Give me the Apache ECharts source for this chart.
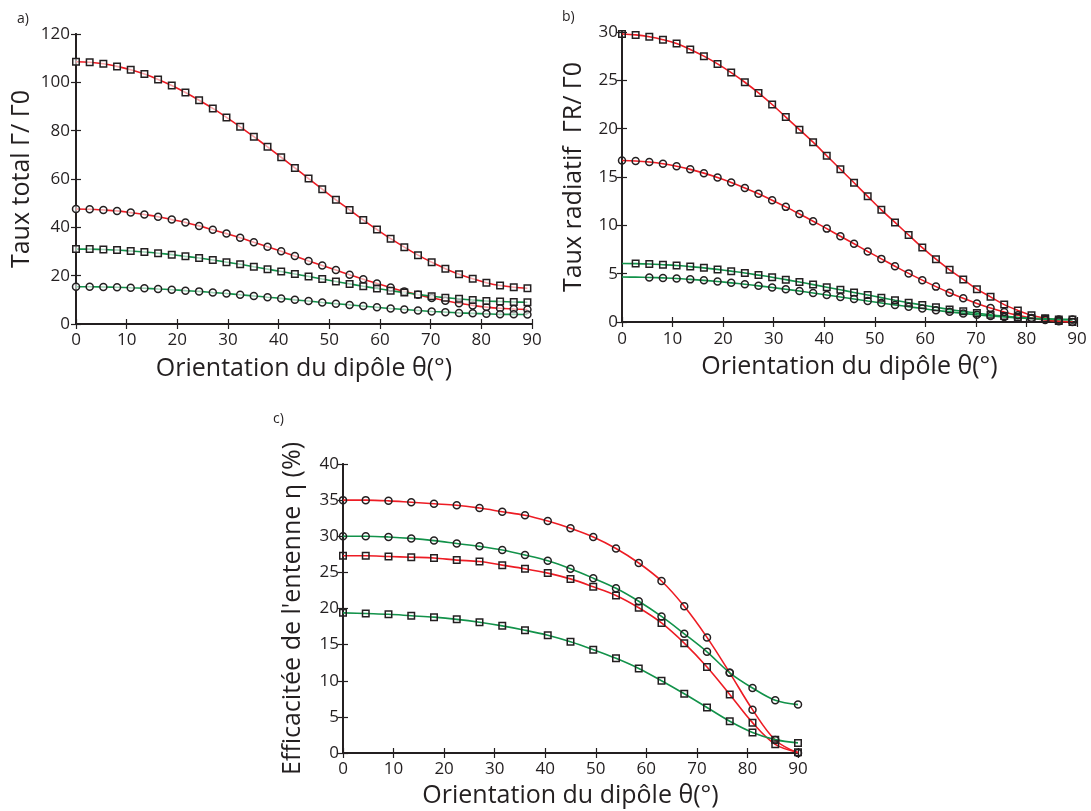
<!DOCTYPE html>
<html>
<head>
<meta charset="utf-8">
<script src="https://cdn.jsdelivr.net/npm/echarts@6/dist/echarts.min.js"></script>
<style>html,body{margin:0;padding:0;background:#fff;}#chart{width:1091px;height:811px;}</style>
</head>
<body>
<div id="chart"></div>
<script>
// ---------- data ----------
const thetaAB = [0,2.7,5.4,8.1,10.8,13.5,16.2,18.9,21.6,24.3,27.0,29.7,32.4,35.1,37.8,40.5,43.2,45.9,48.6,51.3,54.0,56.7,59.4,62.1,64.8,67.5,70.2,72.9,75.6,78.3,81.0,83.7,86.4,89.1];
const thetaC = [0,4.5,9,13.5,18,22.5,27,31.5,36,40.5,45,49.5,54,58.5,63,67.5,72,76.5,81,85.5,90];

// panel a) total rate
const aRedSquares   = [108.5,108.3,107.7,106.6,105.2,103.4,101.2,98.7,95.8,92.6,89.2,85.5,81.6,77.5,73.3,69.0,64.6,60.2,55.8,51.4,47.2,43.0,39.1,35.3,31.8,28.5,25.6,22.9,20.6,18.7,17.1,15.9,15.2,14.8];
const aRedCircles   = [47.6,47.5,47.2,46.8,46.1,45.3,44.4,43.2,42.0,40.6,39.0,37.4,35.7,33.8,32.0,30.1,28.1,26.1,24.2,22.3,20.4,18.5,16.8,15.1,13.5,12.1,10.8,9.6,8.6,7.7,7.0,6.5,6.2,6.0];
const aGreenSquares = [31.0,31.0,30.8,30.6,30.2,29.8,29.3,28.7,28.0,27.3,26.5,25.6,24.7,23.7,22.7,21.7,20.7,19.7,18.6,17.6,16.6,15.6,14.7,13.8,13.0,12.2,11.5,10.9,10.4,9.9,9.5,9.3,9.1,9.0];
const aGreenCircles = [15.4,15.4,15.3,15.2,15.0,14.8,14.5,14.2,13.8,13.5,13.0,12.6,12.1,11.6,11.1,10.6,10.0,9.5,8.9,8.4,7.9,7.4,6.9,6.4,6.0,5.6,5.2,4.9,4.6,4.4,4.2,4.0,4.0,3.9];

// panel b) radiative rate
const bRedSquares   = [29.8,29.7,29.5,29.2,28.8,28.2,27.5,26.7,25.8,24.8,23.7,22.5,21.2,19.9,18.6,17.2,15.8,14.4,13.0,11.6,10.3,9.0,7.7,6.5,5.4,4.4,3.4,2.6,1.8,1.2,0.7,0.4,0.1,0.0];
const bRedCircles   = [16.7,16.66,16.55,16.37,16.11,15.79,15.40,14.95,14.44,13.87,13.26,12.60,11.91,11.18,10.43,9.66,8.87,8.09,7.30,6.53,5.77,5.03,4.33,3.66,3.03,2.45,1.92,1.44,1.03,0.69,0.41,0.20,0.07,0.0];
const bGreenSquares = [6.05,6.04,6.0,5.93,5.85,5.73,5.6,5.44,5.26,5.07,4.85,4.63,4.38,4.13,3.87,3.6,3.33,3.06,2.79,2.52,2.25,2.0,1.75,1.52,1.3,1.1,0.92,0.75,0.61,0.49,0.39,0.32,0.27,0.25];
const bGreenCircles = [4.65,4.64,4.61,4.56,4.5,4.41,4.31,4.19,4.05,3.9,3.74,3.57,3.39,3.2,3.0,2.8,2.59,2.38,2.17,1.97,1.77,1.58,1.39,1.21,1.05,0.89,0.75,0.63,0.52,0.43,0.36,0.3,0.27,0.25];

// panel c) antenna efficiency (%)
const cRedCircles   = [35.0,35.0,34.9,34.7,34.5,34.3,33.9,33.4,32.9,32.1,31.1,29.9,28.3,26.3,23.8,20.3,16.0,11.1,6.0,1.8,0.0];
const cGreenCircles = [30.0,30.0,29.9,29.7,29.4,29.0,28.6,28.1,27.4,26.6,25.5,24.2,22.8,21.0,18.9,16.5,14.0,11.1,9.0,7.3,6.7];
const cRedSquares   = [27.3,27.3,27.2,27.1,27.0,26.7,26.5,26.0,25.5,24.9,24.1,23.0,21.8,20.1,18.0,15.2,11.9,8.1,4.2,1.2,0.1];
const cGreenSquares = [19.4,19.3,19.2,19.0,18.8,18.5,18.1,17.6,17.0,16.3,15.4,14.3,13.1,11.7,10.0,8.2,6.3,4.4,2.85,1.85,1.4];

const xTicks = {min:0, max:90, interval:10};
const yA = {min:0, max:120, interval:20};
const yB = {min:0, max:30, interval:5};
const yC = {min:0, max:40, interval:5};

const xName = 'Orientation du dipôle θ(°)';
const yNameA = 'Taux total Γ/ Γ0';
const yNameB = 'Taux radiatif  ΓR/ Γ0';
const yNameC = "Efficacitée de l'entenne η (%)";

// ---------- styling ----------
const INK = '#231f20';
const RED = '#ed1c24';
const GREEN = '#12924a';
const FONT = 'Open Sans';

function axisCommon(show) {
  return {
    axisLine: {show: true, lineStyle: {color: INK, width: 1.8}},
    axisTick: {show: true, inside: true, length: 5, lineStyle: {color: INK, width: 1.2}},
    splitLine: {show: false},
    axisLabel: {show: show, color: INK, fontFamily: FONT, fontSize: 17},
    nameTextStyle: {color: INK, fontFamily: FONT, fontSize: 25}
  };
}
function xAx(grid, pos, rng, labelMargin, gap) {
  const c = axisCommon(pos === 'bottom');
  const ax = Object.assign({type: 'value', gridIndex: grid, position: pos}, rng, c);
  ax.axisLabel.margin = labelMargin;
  if (pos === 'bottom') { ax.name = xName; ax.nameLocation = 'middle'; ax.nameGap = gap; }
  return ax;
}
function yAx(grid, pos, rng, labelMargin, name, gap) {
  const c = axisCommon(pos === 'left');
  const ax = Object.assign({type: 'value', gridIndex: grid, position: pos}, rng, c);
  ax.axisLabel.margin = labelMargin;
  if (pos === 'left') { ax.name = name; ax.nameLocation = 'middle'; ax.nameRotate = 90; ax.nameGap = gap; }
  return ax;
}

function mkSeries(xs, ys, axis, color, symbol, size, fill, hideFirst) {
  return {
    type: 'line',
    xAxisIndex: axis, yAxisIndex: axis,
    smooth: 0.35,
    symbol: symbol,
    symbolSize: size,
    showAllSymbol: true,
    lineStyle: {color: color, width: 1.6},
    itemStyle: {color: fill, borderColor: INK, borderWidth: 1.5},
    emphasis: {disabled: true},
    data: xs.map((x, i) => {
      const d = {value: [x, ys[i]]};
      if (i < hideFirst) d.symbol = 'none';
      return d;
    }),
    z: 3
  };
}

const chart = echarts.init(document.getElementById('chart'), null, {renderer: 'canvas'});
const option = {
  backgroundColor: '#fff',
  animation: false,
  grid: [
    {left: 76, top: 34, width: 456, height: 290},
    {left: 622, top: 32, width: 455, height: 290},
    {left: 343, top: 464, width: 455, height: 289}
  ],
  xAxis: [
    xAx(0, 'bottom', xTicks, 8, 32), xAx(0, 'top', xTicks, 8),
    xAx(1, 'bottom', xTicks, 9, 32), xAx(1, 'top', xTicks, 9),
    xAx(2, 'bottom', xTicks, 8, 30), xAx(2, 'top', xTicks, 8)
  ],
  yAxis: [
    yAx(0, 'left', yA, 6, yNameA, 42), yAx(0, 'right', yA, 6),
    yAx(1, 'left', yB, 4, yNameB, 36), yAx(1, 'right', yB, 4),
    yAx(2, 'left', yC, 4, yNameC, 38), yAx(2, 'right', yC, 4)
  ],
  graphic: [
    {type: 'text', left: 17, top: 12, style: {text: 'a)', fontFamily: FONT, fontSize: 14, fill: INK}},
    {type: 'text', left: 562, top: 10, style: {text: 'b)', fontFamily: FONT, fontSize: 14, fill: INK}},
    {type: 'text', left: 273, top: 412, style: {text: 'c)', fontFamily: FONT, fontSize: 14, fill: INK}}
  ],
  series: [
    mkSeries(thetaAB, aRedSquares, 0, RED, 'rect', 6.5, 'rgba(255,255,255,0.6)', 0),
    mkSeries(thetaAB, aRedCircles, 0, RED, 'circle', 7, 'rgba(255,255,255,0.6)', 0),
    mkSeries(thetaAB, aGreenSquares, 0, GREEN, 'rect', 6.5, 'rgba(255,255,255,0.6)', 0),
    mkSeries(thetaAB, aGreenCircles, 0, GREEN, 'circle', 7, 'rgba(255,255,255,0.6)', 0),

    mkSeries(thetaAB, bRedSquares, 2, RED, 'rect', 6.5, 'rgba(0,0,0,0)', 0),
    mkSeries(thetaAB, bRedCircles, 2, RED, 'circle', 7, 'rgba(0,0,0,0)', 0),
    mkSeries(thetaAB, bGreenSquares, 2, GREEN, 'rect', 6.5, 'rgba(0,0,0,0)', 1),
    mkSeries(thetaAB, bGreenCircles, 2, GREEN, 'circle', 7, 'rgba(0,0,0,0)', 2),

    mkSeries(thetaC, cRedCircles, 4, RED, 'circle', 7, 'rgba(0,0,0,0)', 0),
    mkSeries(thetaC, cGreenCircles, 4, GREEN, 'circle', 7, 'rgba(0,0,0,0)', 0),
    mkSeries(thetaC, cRedSquares, 4, RED, 'rect', 6.5, 'rgba(0,0,0,0)', 0),
    mkSeries(thetaC, cGreenSquares, 4, GREEN, 'rect', 6.5, 'rgba(0,0,0,0)', 0)
  ]
};
chart.setOption(option);
</script>
</body>
</html>
